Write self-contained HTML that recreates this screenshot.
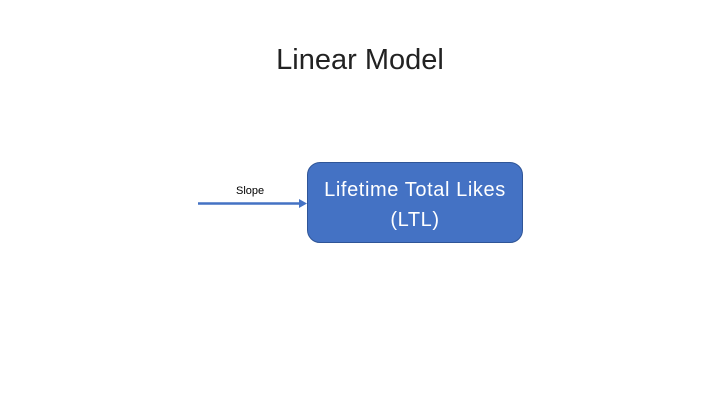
<!DOCTYPE html>
<html><head><meta charset="utf-8"><style>
html,body{margin:0;padding:0;background:#fff;}
body{width:720px;height:405px;position:relative;overflow:hidden;font-family:"Liberation Sans",sans-serif;}
.title{position:absolute;left:0;width:720px;top:40px;text-align:center;font-size:29px;color:#222;line-height:40px;}
.box{position:absolute;left:307px;top:162px;width:214px;height:79px;background:#4472c4;border:1px solid #2f5597;border-radius:13px;color:#fff;font-size:20px;letter-spacing:0.6px;text-align:center;line-height:30px;box-sizing:content-box;}
.box div{padding-top:12px;}
.lbl{position:absolute;left:236px;top:185px;font-size:11px;color:#000;}
</style></head><body>
<div class="title">Linear Model</div>
<svg width="720" height="405" style="position:absolute;left:0;top:0">
<line x1="198" y1="203.5" x2="300" y2="203.5" stroke="#4472c4" stroke-width="2.5"/>
<polygon points="307,203.5 299,199 299,208" fill="#4472c4"/>
</svg>
<div class="lbl">Slope</div>
<div class="box"><div>Lifetime Total Likes<br>(LTL)</div></div>
</body></html>
